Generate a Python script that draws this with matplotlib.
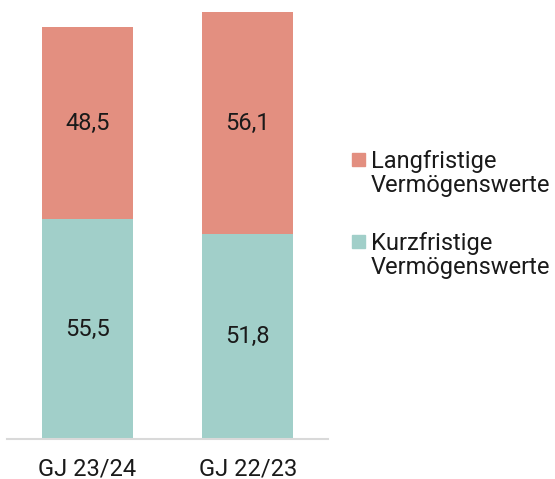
import matplotlib
matplotlib.use("Agg")
import matplotlib.pyplot as plt
from matplotlib.patches import Rectangle

plt.rcParams['font.family'] = ['Roboto', 'DejaVu Sans']

jahre = ["GJ 23/24", "GJ 22/23"]
kurz = [55.5, 51.8]
lang = [48.5, 56.1]
serien = ["Langfristige\nVermögenswerte", "Kurzfristige\nVermögenswerte"]

c_lang = "#e38f80"
c_kurz = "#a1cfc9"
txt = "#1a1a1a"
fs = 17

fig = plt.figure(figsize=(5.55, 4.79), dpi=100)
ax = fig.add_axes([7/555, 39.7/479, 321/555, 439.3/479])

x = range(len(jahre))
b1 = ax.bar(x, kurz, width=0.566, color=c_kurz)
b2 = ax.bar(x, lang, width=0.566, bottom=kurz, color=c_lang)
ax.bar_label(b1, labels=[str(v).replace(".", ",") for v in kurz], label_type="center", fontsize=fs, color=txt)
ax.bar_label(b2, labels=[str(v).replace(".", ",") for v in lang], label_type="center", fontsize=fs, color=txt)

ax.set_xlim(-0.5, 1.5)
ax.set_ylim(0, 110.9)
ax.set_xticks(list(x))
ax.set_xticklabels(jahre, fontsize=fs, color=txt)
ax.tick_params(axis="x", length=0, pad=13)
ax.set_yticks([])
for s in ["top", "left", "right"]:
    ax.spines[s].set_visible(False)
ax.spines["bottom"].set_color("#d9d9d9")
ax.spines["bottom"].set_linewidth(1.5)

# Legende rechts
for i, (lab, col) in enumerate(zip(serien, [c_lang, c_kurz])):
    y0 = 1 - (153 + 82*i)/479
    fig.patches.append(Rectangle((352/555, y0 - 13/479), 13/555, 13/479,
                                 transform=fig.transFigure, color=col))
    fig.text(371/555, y0 + 3/479, lab, fontsize=fs, color=txt, va="top", ha="left", linespacing=1.05)

fig.savefig("out.png", dpi=100)
